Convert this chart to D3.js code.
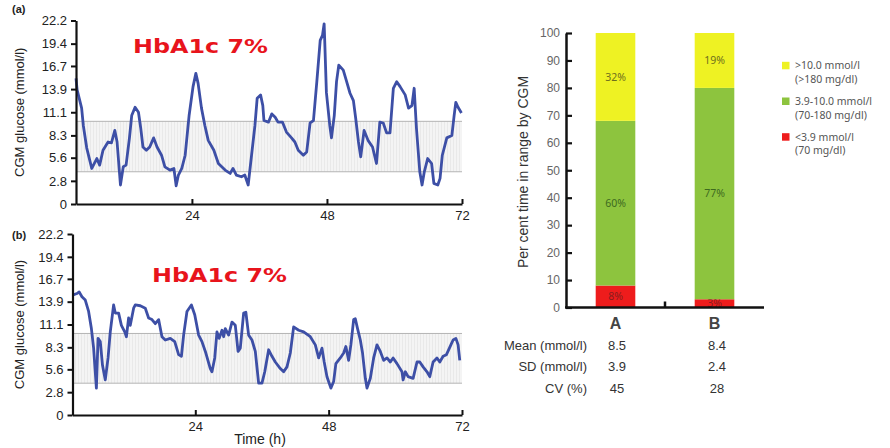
<!DOCTYPE html>
<html><head><meta charset="utf-8">
<script src="https://cdn.jsdelivr.net/npm/d3@7"></script>
<style>body{margin:0;background:#fff} svg{display:block;font-family:"Liberation Sans",Arial,sans-serif}</style>
</head><body>
<svg id="c" width="890" height="448"></svg>
<script>
// ---------- data ----------
const yTickValues = [0, 2.8, 5.6, 8.3, 11.1, 13.9, 16.7, 19.4, 22.2];
const xTickValues = [24, 48, 72];
const targetRange = [3.9, 10.0];

const timeA = [3.4,3.6,4.4,4.7,5.3,6.2,7.1,7.6,8.2,9.1,
  9.7,10.3,10.7,11.3,11.8,12.3,12.9,13.3,13.9,14.5,
  14.9,15.3,15.9,16.5,17.2,17.8,18.6,19.2,20.1,20.8,
  21.2,21.6,22.2,22.8,23.5,24.2,24.7,25.1,25.7,26.3,
  26.9,27.9,28.7,29.9,30.8,31.3,31.9,32.8,33.4,34.0,
  34.6,35.2,35.6,36.2,36.6,36.8,37.6,38.2,38.8,39.3,
  40.1,40.8,41.7,42.3,42.9,43.8,44.4,45.0,45.6,46.2,
  46.8,47.2,47.5,47.6,47.9,48.5,48.8,49.3,49.7,50.1,
  50.9,51.5,52.1,52.7,53.1,53.6,54.0,54.6,55.3,56.1,
  56.8,57.4,58.0,58.6,59.2,59.8,60.4,61.0,61.9,62.5,
  63.1,63.5,63.9,64.5,64.9,65.3,65.9,66.6,67.0,67.7,
  68.1,68.5,69.3,70.2,70.6,70.9,71.3,71.9];
const glucoseA = [15.2,13.8,11.6,9.5,6.8,4.3,5.5,4.7,6.5,7.5,
  7.4,8.9,7.5,2.3,4.5,4.7,8.0,10.7,11.7,11.1,
  9.2,6.9,6.5,6.9,8.0,6.9,5.9,4.5,4.1,4.3,
  2.2,3.5,4.3,5.9,10.7,14.2,15.8,14.6,11.6,9.5,
  7.7,6.5,4.9,4.1,3.7,4.3,3.5,3.3,3.5,2.3,
  5.9,9.5,12.8,13.2,11.9,10.1,9.9,10.9,10.5,9.9,
  9.9,8.7,8.0,7.5,6.5,5.9,6.3,9.8,10.1,14.8,
  19.8,20.4,21.8,19.8,13.5,9.5,8.0,10.7,14.8,16.8,
  16.2,14.8,13.4,12.5,10.4,7.5,5.7,8.9,7.7,6.9,
  4.9,9.9,9.8,8.6,8.6,14.0,14.8,14.2,13.2,11.6,
  11.9,14.0,9.2,3.9,2.3,3.9,5.5,4.9,2.5,2.3,
  3.1,5.9,8.0,8.3,10.7,12.3,11.7,11.0];

const timeB = [1.9,2.7,3.1,3.6,4.2,4.8,5.3,5.7,6.2,6.5,
  6.9,7.3,7.8,8.3,8.7,9.3,9.6,10.2,10.7,11.3,
  11.6,12.0,12.3,12.9,13.2,14.1,15.0,15.6,16.2,16.8,
  17.4,18.0,18.6,19.5,20.3,21.0,21.5,21.9,22.5,23.3,
  23.9,24.6,25.2,25.9,26.7,27.0,27.5,27.9,28.3,28.8,
  29.1,29.4,30.0,30.6,31.2,31.7,32.1,32.7,33.1,33.6,
  34.2,34.8,35.4,36.0,36.5,37.2,37.8,38.4,39.3,39.9,
  40.5,41.1,41.7,42.6,43.5,44.7,45.6,46.2,46.8,47.2,
  47.7,48.4,48.9,49.3,50.1,50.7,51.1,51.6,52.0,52.5,
  52.8,53.2,53.7,54.1,54.6,54.9,55.5,56.1,56.7,57.3,
  57.9,58.5,59.1,59.6,60.3,61.2,61.4,61.8,62.3,63.2,
  63.9,64.4,65.0,65.7,66.2,66.8,67.5,68.0,68.6,69.2,
  70.0,70.4,70.9,71.3,71.6];
const glucoseB = [14.7,14.9,15.1,14.5,14.1,12.7,10.6,8.2,3.3,9.4,
  9.0,6.1,4.3,7.0,10.2,13.5,12.5,12.5,11.0,10.2,
  9.6,11.9,11.0,13.1,13.5,13.4,13.1,11.9,11.7,11.2,
  11.7,9.6,9.2,9.4,9.0,7.4,7.2,9.8,12.7,13.5,
  12.3,9.8,9.0,7.6,5.7,5.3,7.0,10.2,9.4,10.4,
  9.6,10.6,9.8,11.4,11.0,7.8,8.2,12.5,12.6,9.8,
  9.2,7.8,3.9,3.9,5.3,8.0,7.2,6.5,5.7,5.3,
  5.9,7.6,10.8,10.4,10.2,9.6,8.6,7.0,8.2,6.5,
  4.7,3.3,4.1,6.3,7.0,7.6,8.4,6.7,8.6,11.7,
  11.8,10.6,9.2,7.6,4.5,3.3,4.5,7.0,8.6,7.8,
  6.7,7.0,6.5,7.0,6.3,5.3,4.3,5.3,4.7,4.5,
  6.5,6.5,5.9,5.3,4.7,6.5,7.0,6.5,7.2,7.4,
  8.6,9.2,9.4,8.6,6.7];

const categories = ["A", "B"];
const lowPct = [8, 3];
const inPct = [60, 77];
const highPct = [32, 20];
const lowLabels = ["8%", "3%"];
const inLabels = ["60%", "77%"];
const highLabels = ["32%", "19%"];
const pctTicks = [0,10,20,30,40,50,60,70,80,90,100];
const statNames = ["Mean (mmol/l)", "SD (mmol/l)", "CV (%)"];
const statA = ["8.5", "3.9", "45"];
const statB = ["8.4", "2.4", "28"];
const legendMain = [">10.0 mmol/l", "3.9-10.0 mmol/l", "<3.9 mmol/l"];
const legendSub = ["(>180 mg/dl)", "(70-180 mg/dl)", "(70 mg/dl)"];

// ---------- drawing ----------
const svg = d3.select("#c");
const defs = svg.append("defs");
const pat = defs.append("pattern").attr("id","hatch").attr("patternUnits","userSpaceOnUse")
  .attr("width",3).attr("height",4);
pat.append("rect").attr("width",3).attr("height",4).attr("fill","#f4f4f4");
pat.append("line").attr("x1",0.5).attr("x2",0.5).attr("y1",0).attr("y2",4)
  .attr("stroke","#e6e6e6").attr("stroke-width",0.8);

function panel(o){
  const g = svg.append("g");
  const x = d3.scaleLinear().domain([o.t[0], 72]).range([o.x0, 462]);
  const y = d3.scaleLinear().domain([0, 22.2]).range([o.yb, o.yt]);
  // target band
  g.append("rect").attr("x", x.range()[0]).attr("width", x.range()[1]-x.range()[0])
    .attr("y", y(targetRange[1])).attr("height", y(targetRange[0]) - y(targetRange[1]))
    .attr("fill","url(#hatch)");
  targetRange.forEach(v => g.append("line").attr("x1", x.range()[0]).attr("x2", x.range()[1])
    .attr("y1", y(v)).attr("y2", y(v)).attr("stroke","#b4b4b4").attr("stroke-width",1));
  // line
  const pts = o.t.map((t,i)=>[t,o.v[i]]);
  g.append("path").datum(pts)
    .attr("d", d3.line().x(d=>x(d[0])).y(d=>y(d[1])))
    .attr("fill","none").attr("stroke","#3d4fa6").attr("stroke-width",2.8)
    .attr("stroke-linejoin","round");
  // axes
  const ya = g.append("g").attr("transform",`translate(${o.x0},0)`)
    .call(d3.axisLeft(y).tickValues(yTickValues).tickFormat(d=>String(d))
      .tickSizeInner(5).tickSizeOuter(0).tickPadding(4));
  const xa = g.append("g").attr("transform",`translate(0,${o.yb})`)
    .call(d3.axisBottom(x).tickValues(xTickValues).tickFormat(d=>String(d))
      .tickSizeInner(-5).tickSizeOuter(0).tickPadding(7));
  [ya, xa].forEach(a => {
    a.select(".domain").attr("stroke","#111").attr("stroke-width",2.2);
    a.selectAll(".tick line").attr("stroke","#111").attr("stroke-width",2);
    a.selectAll(".tick text").attr("fill","#222").style("font-size","13px")
      .style("font-family",'"Liberation Sans",Arial,sans-serif');
  });
  // y label
  g.append("text").attr("transform",`translate(24,${(o.yb+o.yt)/2}) rotate(-90)`)
    .attr("text-anchor","middle").attr("fill","#222").style("font-size","13px")
    .text("CGM glucose (mmol/l)");
  // panel letter
  g.append("text").attr("x",12).attr("y",o.letterY).attr("fill","#222")
    .style("font-size","11px").style("font-weight","bold").text(o.letter);
  // HbA1c label
  g.append("text").attr("x",o.hx).attr("y",o.hy).attr("fill","#e8141c")
    .attr("textLength",135).attr("lengthAdjust","spacingAndGlyphs")
    .style("font-family",'"DejaVu Sans",Verdana,sans-serif').style("font-weight","bold")
    .style("font-size","19px").text("HbA1c 7%");
}

panel({t:timeA, v:glucoseA, x0:76, yb:204, yt:20.5, letter:"(a)", letterY:13, hx:133, hy:53});
panel({t:timeB, v:glucoseB, x0:72.5, yb:415, yt:234, letter:"(b)", letterY:239, hx:152, hy:282});

svg.append("text").attr("x",260).attr("y",444).attr("text-anchor","middle")
  .attr("fill","#222").style("font-size","14px").text("Time (h)");

// ---------- stacked bars ----------
const bx = d3.scaleBand().domain(categories).range([566, 764]).paddingInner(0.6).paddingOuter(0.3);
const by = d3.scaleLinear().domain([0,100]).range([307.5, 33]);
const rows = categories.map((c,i)=>({cat:c, low:lowPct[i], inr:inPct[i], high:highPct[i], i}));
const keys = ["low","inr","high"];
const colors = {low:"#ee1c1c", inr:"#8dc43e", high:"#eef223"};
const labelColors = {low:"#8a1c1c", inr:"#3e6a1e", high:"#6f6f1d"};
const labelText = {low:lowLabels, inr:inLabels, high:highLabels};
const series = d3.stack().keys(keys)(rows);
const bg = svg.append("g");
series.forEach(s => {
  bg.selectAll(null).data(s).join("rect")
    .attr("x", d=>bx(d.data.cat)).attr("width", bx.bandwidth())
    .attr("y", d=>by(d[1])).attr("height", d=>by(d[0])-by(d[1]))
    .attr("fill", colors[s.key]);
  bg.selectAll(null).data(s).join("text")
    .attr("x", d=>bx(d.data.cat)+bx.bandwidth()/2).attr("y", d=>by((d[0]+d[1])/2))
    .attr("dy","0.35em").attr("text-anchor","middle")
    .attr("fill", labelColors[s.key])
    .style("font-family",'"Noto Sans","Open Sans",sans-serif').style("font-size","10.5px")
    .text(d=>labelText[s.key][d.data.i]);
});
const pa = svg.append("g").attr("transform","translate(566,0)")
  .call(d3.axisLeft(by).tickValues(pctTicks).tickSizeInner(-6).tickSizeOuter(0).tickPadding(6));
pa.select(".domain").attr("stroke","#111").attr("stroke-width",2.5);
pa.selectAll(".tick line").attr("stroke","#111").attr("stroke-width",2.2);
pa.selectAll(".tick text").attr("fill","#666").style("font-size","12px")
  .style("font-family",'"Liberation Sans",Arial,sans-serif');
// baseline
svg.append("line").attr("x1",565).attr("x2",764).attr("y1",by(0)).attr("y2",by(0))
  .attr("stroke","#111").attr("stroke-width",2.5);
const midX = (bx("A")+bx("B"))/2 + bx.bandwidth()/2;
svg.append("line").attr("x1",midX).attr("x2",midX).attr("y1",by(0)).attr("y2",by(0)-6)
  .attr("stroke","#111").attr("stroke-width",2.5);
// y label
svg.append("text").attr("transform",`translate(528,172) rotate(-90)`)
  .attr("text-anchor","middle").attr("fill","#333").style("font-size","14px")
  .text("Per cent time in range by CGM");
// category labels
svg.selectAll(null).data(categories).join("text")
  .attr("x", d=>bx(d)+bx.bandwidth()/2).attr("y",329).attr("text-anchor","middle")
  .attr("fill","#444").style("font-size","16px").style("font-weight","bold").text(d=>d);
// stats
const statY = [345.5, 366.7, 388];
statNames.forEach((n,i)=>{
  svg.append("text").attr("x",587).attr("y",statY[i]).attr("dy","0.35em").attr("text-anchor","end")
    .attr("fill","#333").style("font-size","13px").text(n);
  svg.append("text").attr("x",617).attr("y",statY[i]).attr("dy","0.35em").attr("text-anchor","middle")
    .attr("fill","#333").style("font-size","13px").text(statA[i]);
  svg.append("text").attr("x",717).attr("y",statY[i]).attr("dy","0.35em").attr("text-anchor","middle")
    .attr("fill","#333").style("font-size","13px").text(statB[i]);
});
// legend
const legKeys = ["high","inr","low"];
legKeys.forEach((k,i)=>{
  const cy = 65.5 + i*35.7;
  svg.append("rect").attr("x",782).attr("y",cy-3.7).attr("width",7.5).attr("height",7.5).attr("fill",colors[k]);
  svg.append("text").attr("x",795).attr("y",cy).attr("dy","0.35em").attr("fill","#555")
    .style("font-family",'"Noto Sans","Open Sans",sans-serif').style("font-size","10.5px").text(legendMain[i]);
  svg.append("text").attr("x",795).attr("y",cy+13.7).attr("dy","0.35em").attr("fill","#555")
    .style("font-family",'"Noto Sans","Open Sans",sans-serif').style("font-size","10.5px").text(legendSub[i]);
});
</script>
</body></html>
